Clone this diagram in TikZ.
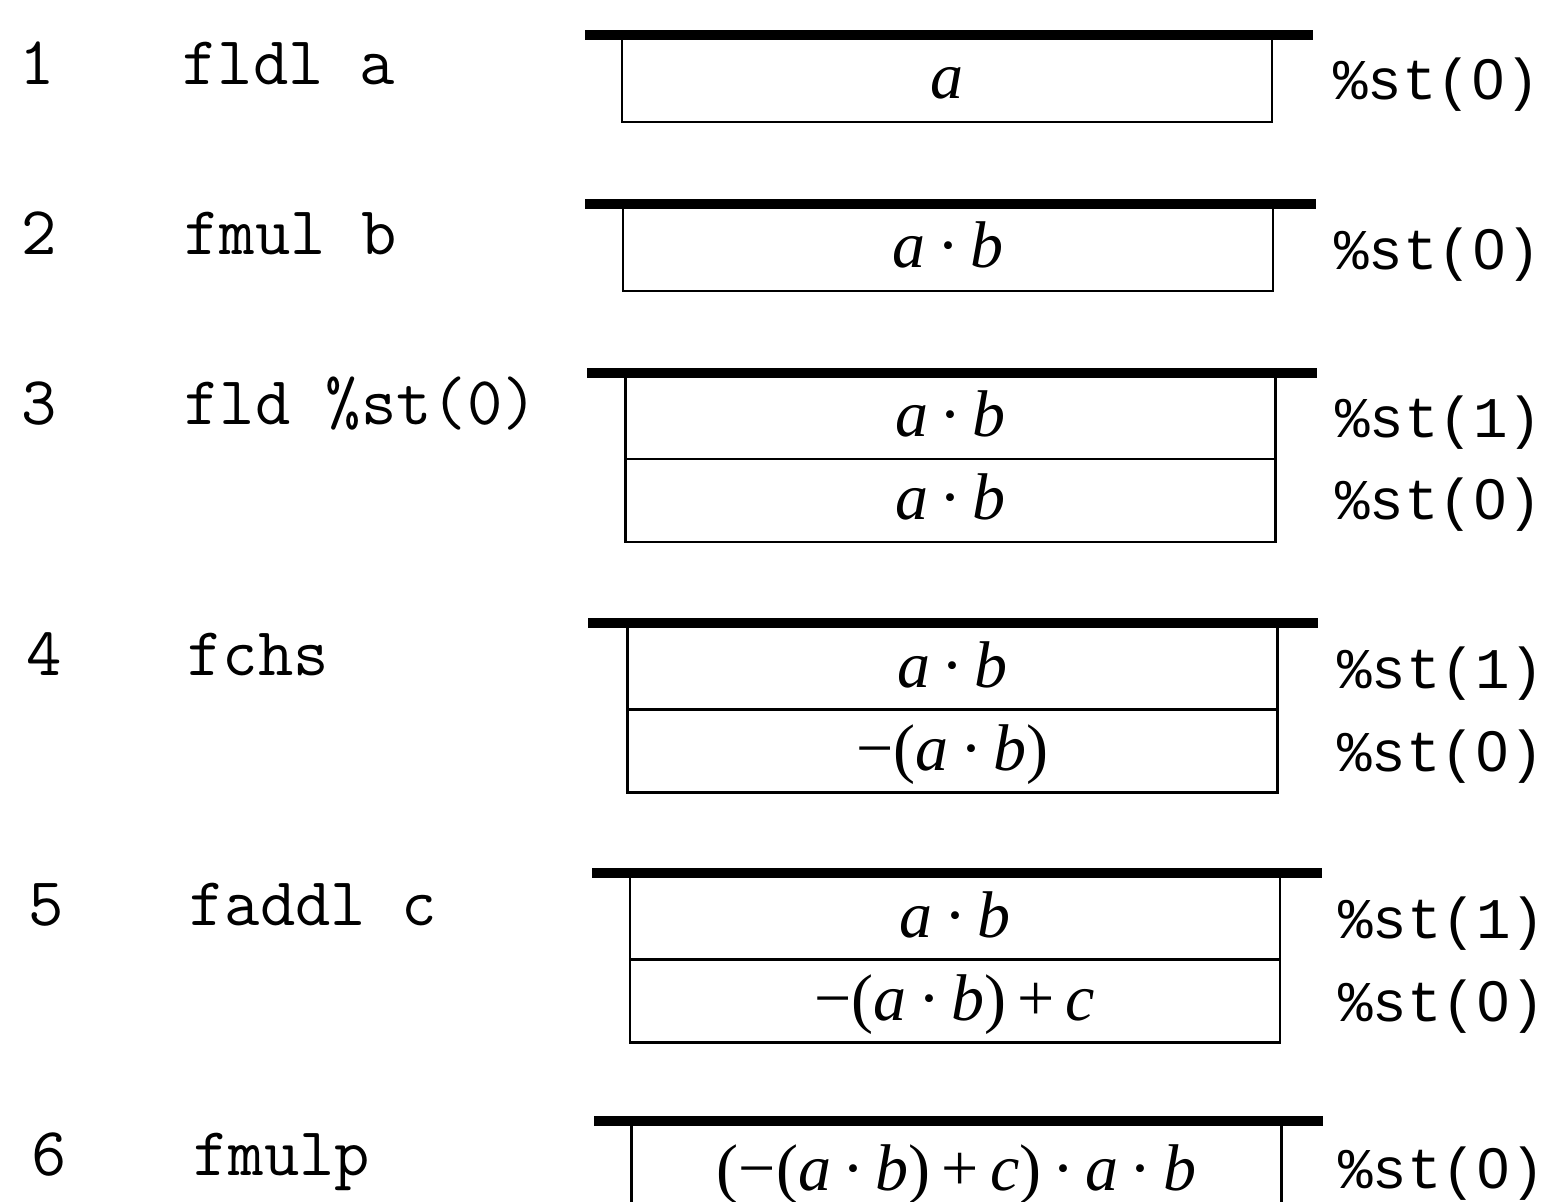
\documentclass[tikz,border=0pt]{standalone}
\usepackage{fontspec}
\usetikzlibrary{positioning}
\setmainfont{Liberation Serif}
\newfontfamily\regfont{Liberation Mono}
\newfontfamily\zerofont{Liberation Sans}
\newcommand{\vv}[1]{\textit{#1}}
\newcommand{\op}[1]{\hspace{0.17em}#1\hspace{0.17em}}
\newcommand{\pl}[1]{#1}
\newcommand{\zr}{\makebox[0.6em]{\zerofont 0}}
\begin{document}
\begin{tikzpicture}[x=0.5pt,y=-0.5pt,
  bar/.style={line width=5pt},
  cellline/.style={line width=1.1pt},
  cell/.style={draw, line width=1.1pt, minimum width=325pt, minimum height=41.5pt,
    inner sep=0pt, outer sep=0pt, text height=22pt, text depth=3pt,
    font=\fontsize{33}{40}\selectfont},
  ins/.style={anchor=base west, inner sep=0pt, font=\ttfamily\fontsize{34.3}{38}\selectfont},
  reg/.style={anchor=base west, inner sep=0pt, font=\regfont\fontsize{28.75}{34}\selectfont}]
\useasboundingbox (0,0) rectangle (1550,1202);

% row 1
\node[ins] (n1) at (19,85) {1};
\node[ins] (i1) at (182,85) {fldl a};
\node[cell, minimum height=42pt] (c1) at (947,80) {\vv{a}};
\draw[bar] (585,35) -- (1313,35);
\node[reg] (r1) at (1333,100) {\%st(\zr)};

% row 2
\node[ins] (n2) at (21,255) {2};
\node[ins] (i2) at (184,255) {fmul b};
\node[cell, minimum height=42pt] (c2) at (948,249) {\vv{a}\op{·}\vv{b}};
\draw[bar] (585,204) -- (1316,204);
\node[reg] (r2) at (1334,270) {\%st(\zr)};

% row 3
\node[ins] (n3) at (21,425) {3};
\node[ins] (i3) at (184,425) {fld \%st(0)};
\node[cell] (c3a) at (950.5,417.5) {\vv{a}\op{·}\vv{b}};
\node[cell, below=0pt of c3a] (c3b) {\vv{a}\op{·}\vv{b}};
\draw[bar] (587,373) -- (1317,373);
\node[reg] (r3a) at (1335,438) {\%st(1)};
\node[reg] (r3b) at (1335,520) {\%st(\zr)};

% row 4
\node[ins] (n4) at (26,675) {4};
\node[ins] (i4) at (187,675) {fchs};
\node[cell] (c4a) at (952.5,668) {\vv{a}\op{·}\vv{b}};
\node[cell, below=0pt of c4a] (c4b) {\pl{−(}\vv{a}\op{·}\vv{b}\pl{)}};
\draw[bar] (588,623) -- (1318,623);
\node[reg] (r4a) at (1337,688) {\%st(1)};
\node[reg] (r4b) at (1337,771) {\%st(\zr)};

% row 5
\node[ins] (n5) at (28,925) {5};
\node[ins] (i5) at (189,925) {faddl c};
\node[cell] (c5a) at (955,918) {\vv{a}\op{·}\vv{b}};
\node[cell, below=0pt of c5a] (c5b) {\pl{−(}\vv{a}\op{·}\vv{b}\pl{)}\op{+}\vv{c}};
\draw[bar] (592,873) -- (1322,873);
\node[reg] (r5a) at (1338,938) {\%st(1)};
\node[reg] (r5b) at (1338,1021) {\%st(\zr)};

% row 6 (cell runs off the bottom edge)
\node[ins] (n6) at (31,1175) {6};
\node[ins] (i6) at (193,1175) {fmulp};
\node[cell, draw=none, minimum height=39pt, text height=30pt, text depth=3pt] (c6) at (956.5,1163)
  {\pl{(−(}\vv{a}\op{·}\vv{b}\pl{)}\op{+}\vv{c}\pl{)}\op{·}\vv{a}\op{·}\vv{b}};
\draw[cellline] (c6.south west) -- (c6.north west) -- (c6.north east) -- (c6.south east);
\draw[bar] (594,1121) -- (1323,1121);
\node[reg] (r6) at (1338,1188) {\%st(\zr)};
\end{tikzpicture}
\end{document}
